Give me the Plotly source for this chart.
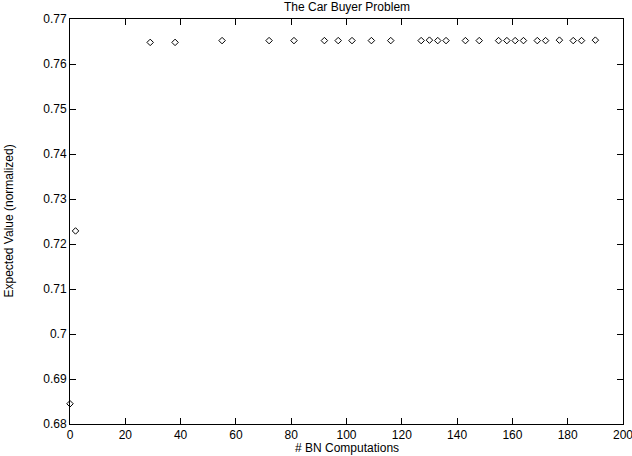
import plotly.graph_objects as go

x_vals = [0, 2, 29, 38, 55, 72, 81, 92, 97, 102, 109, 116, 127, 130, 133, 136,
          143, 148, 155, 158, 161, 164, 169, 172, 177, 182, 185, 190]
y_vals = [0.6845, 0.7229, 0.7648, 0.7648, 0.7652, 0.7652, 0.7652, 0.7652, 0.7652, 0.7652,
          0.7652, 0.7652, 0.7652, 0.7653, 0.7652, 0.7652, 0.7652, 0.7652, 0.7652, 0.7652,
          0.7652, 0.7652, 0.7652, 0.7652, 0.7653, 0.7652, 0.7652, 0.7653]

title = "The Car Buyer Problem"
x_title = "# BN Computations"
y_title = "Expected Value (normalized)"

fig = go.Figure()
fig.add_trace(go.Scatter(
    x=x_vals, y=y_vals, mode="markers",
    marker=dict(symbol="diamond-open", size=5, color="black", line=dict(width=1, color="black")),
    showlegend=False, cliponaxis=False,
))

font = dict(family="Liberation Sans, Arial, sans-serif", size=12, color="black")
axis_common = dict(
    showline=True, linecolor="black", linewidth=1, mirror="ticks",
    ticks="inside", ticklen=6, tickcolor="black", tickwidth=1,
    showgrid=False, zeroline=False, tickfont=font, automargin=False,
    ticklabeloverflow="allow",
)

fig.update_layout(
    width=632, height=456,
    margin=dict(l=70, r=9, t=19, b=32),
    paper_bgcolor="white", plot_bgcolor="white",
    font=font,
    xaxis=dict(range=[0, 200], tickvals=list(range(0, 201, 20)), **axis_common),
    yaxis=dict(range=[0.68, 0.77], tickvals=[0.68 + i * 0.01 for i in range(10)],
               ticktext=["0.68", "0.69", "0.7", "0.71", "0.72", "0.73", "0.74", "0.75", "0.76", "0.77"],
               **axis_common),
    annotations=[
        dict(text=title, xref="paper", yref="paper", x=0.5, y=1, yshift=12,
             xanchor="center", yanchor="middle", showarrow=False, font=font),
        dict(text=x_title, xref="paper", yref="paper", x=0.5, y=0, yshift=-24,
             xanchor="center", yanchor="middle", showarrow=False, font=font),
        dict(text=y_title, xref="paper", yref="paper", x=0, xshift=-62, y=0.5,
             xanchor="center", yanchor="middle", textangle=-90, showarrow=False, font=font),
    ],
)

fig.write_html("out.html", config={"displayModeBar": False},
               post_script="document.body.style.margin='0';document.body.style.overflow='hidden';")
